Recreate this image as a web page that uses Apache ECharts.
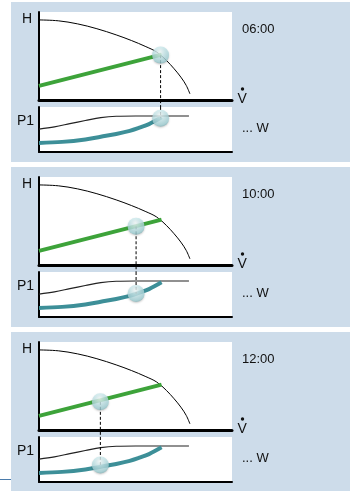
<!DOCTYPE html>
<html>
<head>
<meta charset="utf-8">
<script src="https://cdn.jsdelivr.net/npm/echarts@6/dist/echarts.min.js"></script>
<style>
html,body{margin:0;padding:0;background:#fff;}
#chart{width:350px;height:491px;}
</style>
</head>
<body>
<div id="chart"></div>
<script>
// ---- data ----
const panelTimes = ['06:00', '10:00', '12:00'];
const headLabel = 'H';
const flowLabel = 'V';
const powerLabel = 'P1';
const powerUnit = '... W';

// pump curve (head vs flow, flow in % of axis, head in % of axis)
const pumpFlow = [0, 10, 20, 30, 40, 48, 55, 61, 66, 70, 73.5, 76.3, 78.2];
const pumpHead = [91, 90, 86.5, 81, 74, 67.5, 61, 54.5, 45, 35.5, 26, 16.5, 7];

// system curve (green)
const systemFlow = [0, 63.5];
const systemHead = [16, 51.5];

// max power curve (black, lower chart)
const maxPowerFlow = [0, 8, 16, 24, 32, 40, 50, 77.7];
const maxPower = [51, 56, 63, 70, 76.5, 79.5, 80, 80];

// power consumption curve (teal)
const powerFlow = [0, 12, 24, 32, 40, 47, 52, 57, 63.5];
const powerValue = [20, 22.5, 28, 34, 40, 47, 54, 62, 77];

// operating points per panel
const opFlow = [63, 50.3, 31.8];
const opHead = [51, 44, 32];
const opPower = [75, 52, 38];

// ---- build ----
const panelTop = [0, 165, 330];
const zip = (a, b) => a.map((v, i) => [v, b[i]]);

const ballStyle = {
  color: {
    type: 'radial', x: 0.45, y: 0.3, r: 0.75,
    colorStops: [
      {offset: 0, color: '#f6fdfd'},
      {offset: 0.35, color: '#cdebee'},
      {offset: 0.8, color: '#a2d1d6'},
      {offset: 1, color: '#78a8ad'}
    ]
  },
  shadowBlur: 2,
  shadowColor: 'rgba(0,0,0,0.25)',
  shadowOffsetY: 1
};

const grids = [], xAxes = [], yAxes = [], series = [], graphics = [];

panelTop.forEach((o, p) => {
  graphics.push({type: 'rect', z: -10, shape: {x: 11, y: 2 + o, width: 339, height: 160}, style: {fill: '#cddcea'}});
  grids.push({left: 39, top: 12 + o, width: 193, height: 88, show: true, backgroundColor: '#fff', borderWidth: 0});
  grids.push({left: 39, top: 107 + o, width: 193, height: 45, show: true, backgroundColor: '#fff', borderWidth: 0});
  const gH = p * 2, gP = p * 2 + 1;
  [gH, gP].forEach((g) => {
    xAxes.push({gridIndex: g, type: 'value', min: 0, max: 100,
      axisLine: {show: true, onZero: false, lineStyle: {color: '#000', width: g === gH ? 3 : 2}},
      axisTick: {show: false}, axisLabel: {show: false}, splitLine: {show: false}});
    yAxes.push({gridIndex: g, type: 'value', min: 0, max: 100,
      axisLine: {show: true, onZero: false, lineStyle: {color: '#000', width: 2}},
      axisTick: {show: false}, axisLabel: {show: false}, splitLine: {show: false}});
  });
  series.push({type: 'line', xAxisIndex: gH, yAxisIndex: gH, data: zip(pumpFlow, pumpHead),
    smooth: 0.35, symbol: 'none', lineStyle: {color: '#000', width: 1}, z: 3, silent: true});
  series.push({type: 'line', xAxisIndex: gH, yAxisIndex: gH, data: zip(systemFlow, systemHead),
    symbol: 'none', lineStyle: {color: '#3da33a', width: 4}, z: 4, silent: true});
  series.push({type: 'line', xAxisIndex: gH, yAxisIndex: gH, clip: false,
    data: [[opFlow[p], opHead[p]], [opFlow[p], -8]],
    symbol: 'none', lineStyle: {color: '#000', width: 1, type: [3, 2]}, z: 5, silent: true});
  series.push({type: 'line', xAxisIndex: gP, yAxisIndex: gP, data: zip(maxPowerFlow, maxPower),
    smooth: 0.35, symbol: 'none', lineStyle: {color: '#222', width: 1.2}, z: 3, silent: true});
  series.push({type: 'line', xAxisIndex: gP, yAxisIndex: gP, data: zip(powerFlow, powerValue),
    smooth: 0.35, symbol: 'none', lineStyle: {color: '#3d8f98', width: 4}, z: 4, silent: true});
  series.push({type: 'line', xAxisIndex: gP, yAxisIndex: gP,
    data: [[opFlow[p], 100], [opFlow[p], opPower[p]]],
    symbol: 'none', lineStyle: {color: '#000', width: 1, type: [3, 2]}, z: 5, silent: true});
  series.push({type: 'scatter', xAxisIndex: gH, yAxisIndex: gH, data: [[opFlow[p], opHead[p]]],
    symbolSize: 17, itemStyle: ballStyle, z: 10, silent: true});
  series.push({type: 'scatter', xAxisIndex: gP, yAxisIndex: gP, data: [[opFlow[p], opPower[p]]],
    symbolSize: 17, itemStyle: ballStyle, z: 10, silent: true});

  const font = '"Liberation Sans", Arial, Helvetica, sans-serif';
  graphics.push({type: 'text', z: 20, style: {text: headLabel, x: 22, y: 19 + o, verticalAlign: 'middle', textVerticalAlign: 'middle', font: '14px ' + font, fill: '#111'}});
  graphics.push({type: 'text', z: 20, style: {text: powerLabel, x: 17, y: 121 + o, verticalAlign: 'middle', textVerticalAlign: 'middle', font: '14px ' + font, fill: '#111'}});
  graphics.push({type: 'text', z: 20, style: {text: flowLabel, x: 237.5, y: 99.5 + o, verticalAlign: 'middle', textVerticalAlign: 'middle', font: '14px ' + font, fill: '#111'}});
  graphics.push({type: 'circle', z: 20, shape: {cx: 242.5, cy: 89 + o, r: 1.7}, style: {fill: '#111'}});
  graphics.push({type: 'text', z: 20, style: {text: panelTimes[p], x: 242, y: 29.5 + o, verticalAlign: 'middle', textVerticalAlign: 'middle', font: '13px ' + font, fill: '#111'}});
  graphics.push({type: 'text', z: 20, style: {text: powerUnit, x: 242, y: 128 + o, verticalAlign: 'middle', textVerticalAlign: 'middle', font: '13px ' + font, fill: '#111'}});
});

graphics.push({type: 'line', z: 20, shape: {x1: 0, y1: 479.5, x2: 11, y2: 479.5}, style: {stroke: '#4a7bab', lineWidth: 1}});

const chart = echarts.init(document.getElementById('chart'), null, {renderer: 'canvas'});
chart.setOption({
  animation: false,
  backgroundColor: '#fff',
  grid: grids,
  xAxis: xAxes,
  yAxis: yAxes,
  series: series,
  graphic: graphics
});
</script>
</body>
</html>
